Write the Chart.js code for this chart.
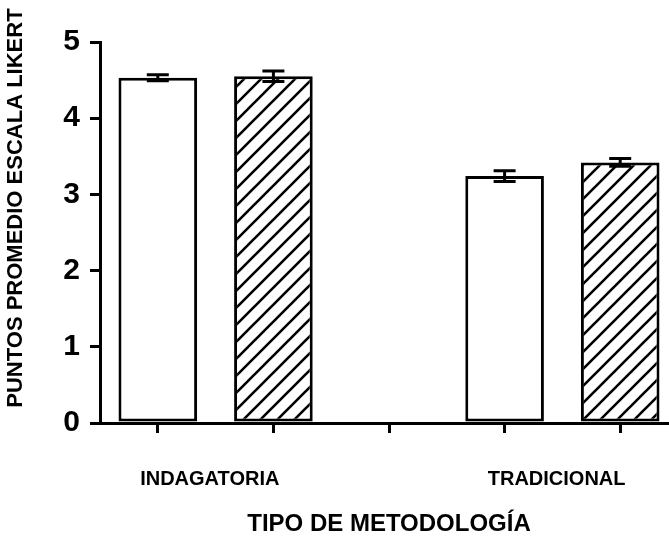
<!DOCTYPE html>
<html><head><meta charset="utf-8">
<script src="https://cdn.jsdelivr.net/npm/chart.js@4/dist/chart.umd.min.js"></script>
<style>
html,body{margin:0;padding:0;overflow:hidden;background:#fff;width:669px;height:543px}
#wrap{width:678px;height:543px;position:relative}
</style></head>
<body><div id="wrap"><canvas id="c"></canvas></div>
<script>
// ---- data ----
const categories = ['INDAGATORIA', '', '', 'TRADICIONAL', ''];
const seriesWhite = [4.53, null, null, 3.24, null];
const errorsWhite = [0.04, null, null, 0.07, null];
const seriesHatched = [null, 4.55, null, null, 3.42];
const errorsHatched = [null, 0.07, null, null, 0.05];
const yTicks = [0, 1, 2, 3, 4, 5];
const yTitle = 'PUNTOS PROMEDIO ESCALA LIKERT';
const xTitle = 'TIPO DE METODOLOGÍA';

const FONT = "'Liberation Sans', Arial, sans-serif";

function hatchPattern(){
  const s = 17, c = document.createElement('canvas');
  c.width = s; c.height = s;
  const g = c.getContext('2d');
  g.fillStyle = '#fff'; g.fillRect(0,0,s,s);
  g.strokeStyle = '#000'; g.lineWidth = 2.6;
  g.beginPath();
  g.moveTo(-2, s+2); g.lineTo(s+2, -2);
  g.moveTo(-2, 2); g.lineTo(2, -2);
  g.moveTo(s-2, s+2); g.lineTo(s+2, s-2);
  g.stroke();
  return g.createPattern(c, 'repeat');
}

const errPlugin = {
  id: 'errbars',
  afterDatasetsDraw(chart){
    const ctx = chart.ctx, y = chart.scales.y;
    [[0, errorsWhite], [1, errorsHatched]].forEach(([di, errs]) => {
      const meta = chart.getDatasetMeta(di);
      const vals = chart.data.datasets[di].data;
      meta.data.forEach((bar, i) => {
        const v = vals[i], e = errs[i];
        if (v == null || e == null) return;
        const x = bar.x, yt = y.getPixelForValue(v + e), yb = y.getPixelForValue(v - e);
        ctx.save();
        ctx.strokeStyle = '#000'; ctx.lineWidth = 3;
        ctx.beginPath();
        ctx.moveTo(x, yt); ctx.lineTo(x, yb);
        ctx.moveTo(x - 11, yt); ctx.lineTo(x + 11, yt);
        ctx.moveTo(x - 11, yb); ctx.lineTo(x + 11, yb);
        ctx.stroke();
        ctx.restore();
      });
    });
  }
};

new Chart(document.getElementById('c'), {
  type: 'bar',
  data: {
    labels: categories,
    datasets: [
      { data: seriesWhite, backgroundColor: '#fff', borderColor: '#000', borderWidth: 3,
        borderSkipped: false, grouped: false, barPercentage: 0.68, categoryPercentage: 1 },
      { data: seriesHatched, backgroundColor: hatchPattern(), borderColor: '#000', borderWidth: 3,
        borderSkipped: false, grouped: false, barPercentage: 0.68, categoryPercentage: 1 }
    ]
  },
  options: {
    responsive: true, maintainAspectRatio: false, animation: false,
    devicePixelRatio: 1,
    layout: { padding: { top: 42, right: 0, left: 0, bottom: 0 } },
    plugins: { legend: { display: false }, tooltip: { enabled: false } },
    scales: {
      x: {
        grid: { offset: false, drawOnChartArea: false, drawTicks: true, tickLength: 10, color: '#000', lineWidth: 3 },
        border: { display: true, color: '#000', width: 3 },
        ticks: { color: '#000', font: { family: FONT, weight: 'bold', size: 20 }, padding: 34,
                 labelOffset: 52, autoSkip: false, maxRotation: 0 },
        title: { display: true, text: xTitle, color: '#000', font: { family: FONT, weight: 'bold', size: 24 },
                 padding: { top: 0, bottom: 4 } },
        afterFit(s){ s.height = 120; }
      },
      y: {
        min: 0, max: 5,
        afterBuildTicks(s){ s.ticks = yTicks.map(v => ({ value: v })); },
        grid: { drawOnChartArea: false, drawTicks: true, tickLength: 10, color: '#000', lineWidth: 3 },
        border: { display: true, color: '#000', width: 3 },
        ticks: { color: '#000', font: { family: FONT, weight: 'bold', size: 30 }, padding: 10 },
        title: { display: true, text: '        ' + yTitle, color: '#000', font: { family: FONT, weight: 'bold', size: 22 },
                 padding: { top: 3, bottom: 0 } },
        afterFit(s){ s.width = 100; }
      }
    }
  },
  plugins: [errPlugin]
});
</script>
</body></html>
